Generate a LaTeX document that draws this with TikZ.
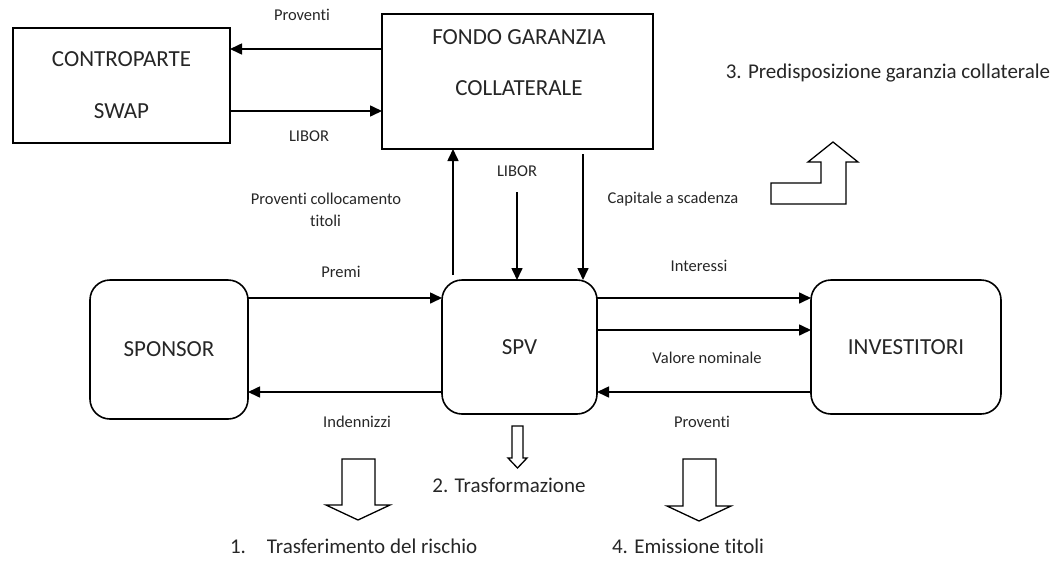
\documentclass[tikz,border=0pt]{standalone}
\usepackage{fontspec}
\setmainfont{Carlito}[Ligatures=NoCommon]
\usetikzlibrary{arrows.meta,calc}
\begin{document}
\begin{tikzpicture}[x=1pt,y=-1pt,
  every node/.style={inner sep=0pt, outer sep=0pt, text=black!85},
  sqbox/.style={draw, line width=1.6pt},
  rbox/.style={draw, line width=1.6pt, rounded corners=20pt},
  arr/.style={line width=1.6pt, -{Triangle[length=12pt,width=11pt]}},
  lbl/.style={font=\fontsize{16.5}{20}\selectfont, text height=0.65em, text depth=0pt},
  boxtxt/.style={font=\fontsize{23}{27}\selectfont},
  steptxt/.style={font=\fontsize{21}{25}\selectfont, text height=0.65em, text depth=0pt},
  blockarrow/.style={draw, line width=1.3pt, line join=miter, fill=white},
]
\useasboundingbox (0,0) rectangle (1059,563);

% boxes
\node[sqbox, minimum width=217pt, minimum height=115pt, align=center,
      font=\fontsize{23}{52}\selectfont] (cs) at (121.5,85.5) {CONTROPARTE\\SWAP};
\node[sqbox, minimum width=271pt, minimum height=135pt] (fg) at (517.5,81.5) {};
\node[align=center, font=\fontsize{23}{51}\selectfont] (fgtxt) at (519,62.5) {FONDO GARANZIA\\COLLATERALE};
\node[rbox, minimum width=158pt, minimum height=139pt, boxtxt] (sp) at (169,349.5) {SPONSOR};
\node[rbox, minimum width=155pt, minimum height=134pt, boxtxt] (spv) at (519.5,347) {SPV};
\node[rbox, minimum width=190pt, minimum height=134pt, boxtxt] (inv) at (906,347) {INVESTITORI};

% helper levels
\coordinate (yA) at (0,49);
\coordinate (yB) at (0,111);
\coordinate (y1) at (0,298);
\coordinate (y2) at (0,330);
\coordinate (y3) at (0,392);
\coordinate (xU) at (453,0);
\coordinate (xC) at (583,0);
\coordinate (libtop) at (517,192);

% connectors
\draw[arr] (fg.west|-yA) -- (cs.east|-yA);
\draw[arr] (cs.east|-yB) -- (fg.west|-yB);
\draw[arr] ($(spv.north-|xU)+(0,-5)$) -- (fg.south-|xU);
\draw[arr] (libtop) -- (spv.north-|libtop);
\draw[arr] ($(fg.south-|xC)+(0,5)$) -- (spv.north-|xC);
\draw[arr] (sp.east|-y1) -- (spv.west|-y1);
\draw[arr] (spv.west|-y3) -- (sp.east|-y3);
\draw[arr] (spv.east|-y1) -- (inv.west|-y1);
\draw[arr] (spv.east|-y2) -- (inv.west|-y2);
\draw[arr] (inv.west|-y3) -- (spv.east|-y3);

% labels
\node[lbl] (l1) at (302,17) {Proventi};
\node[lbl] (l2) at (309,138) {LIBOR};
\node[lbl] (l3) at (326,201) {Proventi collocamento};
\node[lbl] (l3b) at (325.5,223) {titoli};
\node[lbl] (l4) at (517,173) {LIBOR};
\node[lbl] (l5) at (673,200) {Capitale a scadenza};
\node[lbl] (l6) at (341,274) {Premi};
\node[lbl] (l7) at (357,424) {Indennizzi};
\node[lbl] (l8) at (699,268) {Interessi};
\node[lbl] (l9) at (707,360) {Valore nominale};
\node[lbl] (l10) at (702,424) {Proventi};

% step labels
\node[steptxt] (s3) at (888,75) {3. Predisposizione garanzia collaterale};
\node[steptxt] (s2) at (509,489) {2. Trasformazione};
\node[steptxt, anchor=west] (s1) at (230,550) {1.\hspace{21pt}Trasferimento del rischio};
\node[steptxt, anchor=west] (s4) at (612,550) {4. Emissione titoli};

% block arrows
\draw[blockarrow] (342,459) -- (375,459) -- (375,505) -- (390,505) -- (358,520) -- (326,505) -- (342,505) -- cycle;
\draw[blockarrow] (683,459) -- (716,459) -- (716,506) -- (731,506) -- (699,521) -- (667,506) -- (683,506) -- cycle;
\draw[blockarrow] (512,426) -- (523,426) -- (523,458) -- (527,458) -- (517.5,468) -- (508,458) -- (512,458) -- cycle;
\draw[blockarrow] (771,183) -- (821,183) -- (821,162) -- (808,162) -- (833,142) -- (858,162) -- (846,162) -- (846,204) -- (771,204) -- cycle;
\end{tikzpicture}
\end{document}
